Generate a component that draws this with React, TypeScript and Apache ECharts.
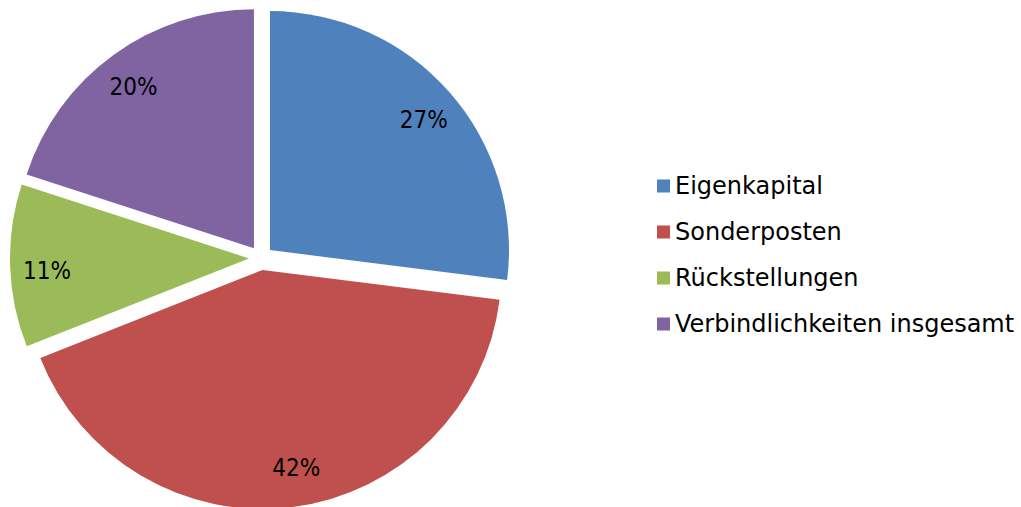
import React, { useEffect, useRef } from "react";
import * as echarts from "echarts";

const categories = ["Eigenkapital", "Sonderposten", "Rückstellungen", "Verbindlichkeiten insgesamt"];
const values = [27, 42, 11, 20];
const colors = ["#4F81BD", "#C0504D", "#9BBB59", "#8064A2"];
const labelShift = [[0, 6], [8, -5], [3, 6], [0, 5]];

export default function App() {
  const ref = useRef<HTMLDivElement>(null);
  useEffect(() => {
    if (!ref.current) return;
    const chart = echarts.init(ref.current, null, { renderer: "svg" });
    const data = categories.map((name, i) => ({
      name,
      value: values[i],
      selected: true,
      itemStyle: { color: colors[i] },
    }));
    chart.setOption({
      animation: false,
      backgroundColor: "#ffffff",
      legend: {
        orient: "vertical",
        left: 657,
        top: 174,
        padding: 0,
        icon: "rect",
        itemWidth: 13,
        itemHeight: 13,
        itemGap: 22,
        data: categories,
        textStyle: {
          fontFamily: "DejaVu Sans",
          fontSize: 24,
          lineHeight: 24,
          color: "#000",
        },
      },
      series: [
        {
          type: "pie",
          center: [261, 258],
          radius: [0, 239],
          startAngle: 90,
          clockwise: true,
          selectedMode: "multiple",
          selectedOffset: 12,
          silent: true,
          label: { show: false },
          labelLine: { show: false },
          data,
        },
        {
          type: "pie",
          center: [261, 258],
          radius: [192, 212],
          startAngle: 90,
          clockwise: true,
          selectedMode: "multiple",
          selectedOffset: 12,
          silent: true,
          legendHoverLink: false,
          itemStyle: { color: "rgba(0,0,0,0)" },
          label: {
            show: true,
            position: "inside",
            formatter: (p: any) => p.value + "%",
            fontFamily: "DejaVu Sans Condensed, Liberation Sans, sans-serif",
            fontSize: 24,
            color: "#000",
          },
          labelLayout: (p: any) => ({
            dx: labelShift[p.dataIndex][0],
            dy: labelShift[p.dataIndex][1],
          }),
          labelLine: { show: false },
          data: categories.map((name, i) => ({
            name,
            value: values[i],
            selected: true,
            itemStyle: { color: "rgba(0,0,0,0)" },
          })),
        },
      ],
    });
    return () => chart.dispose();
  }, []);
  return (
    <div
      ref={ref}
      style={{ position: "fixed", left: 0, top: 0, width: 1021, height: 507 }}
    />
  );
}
